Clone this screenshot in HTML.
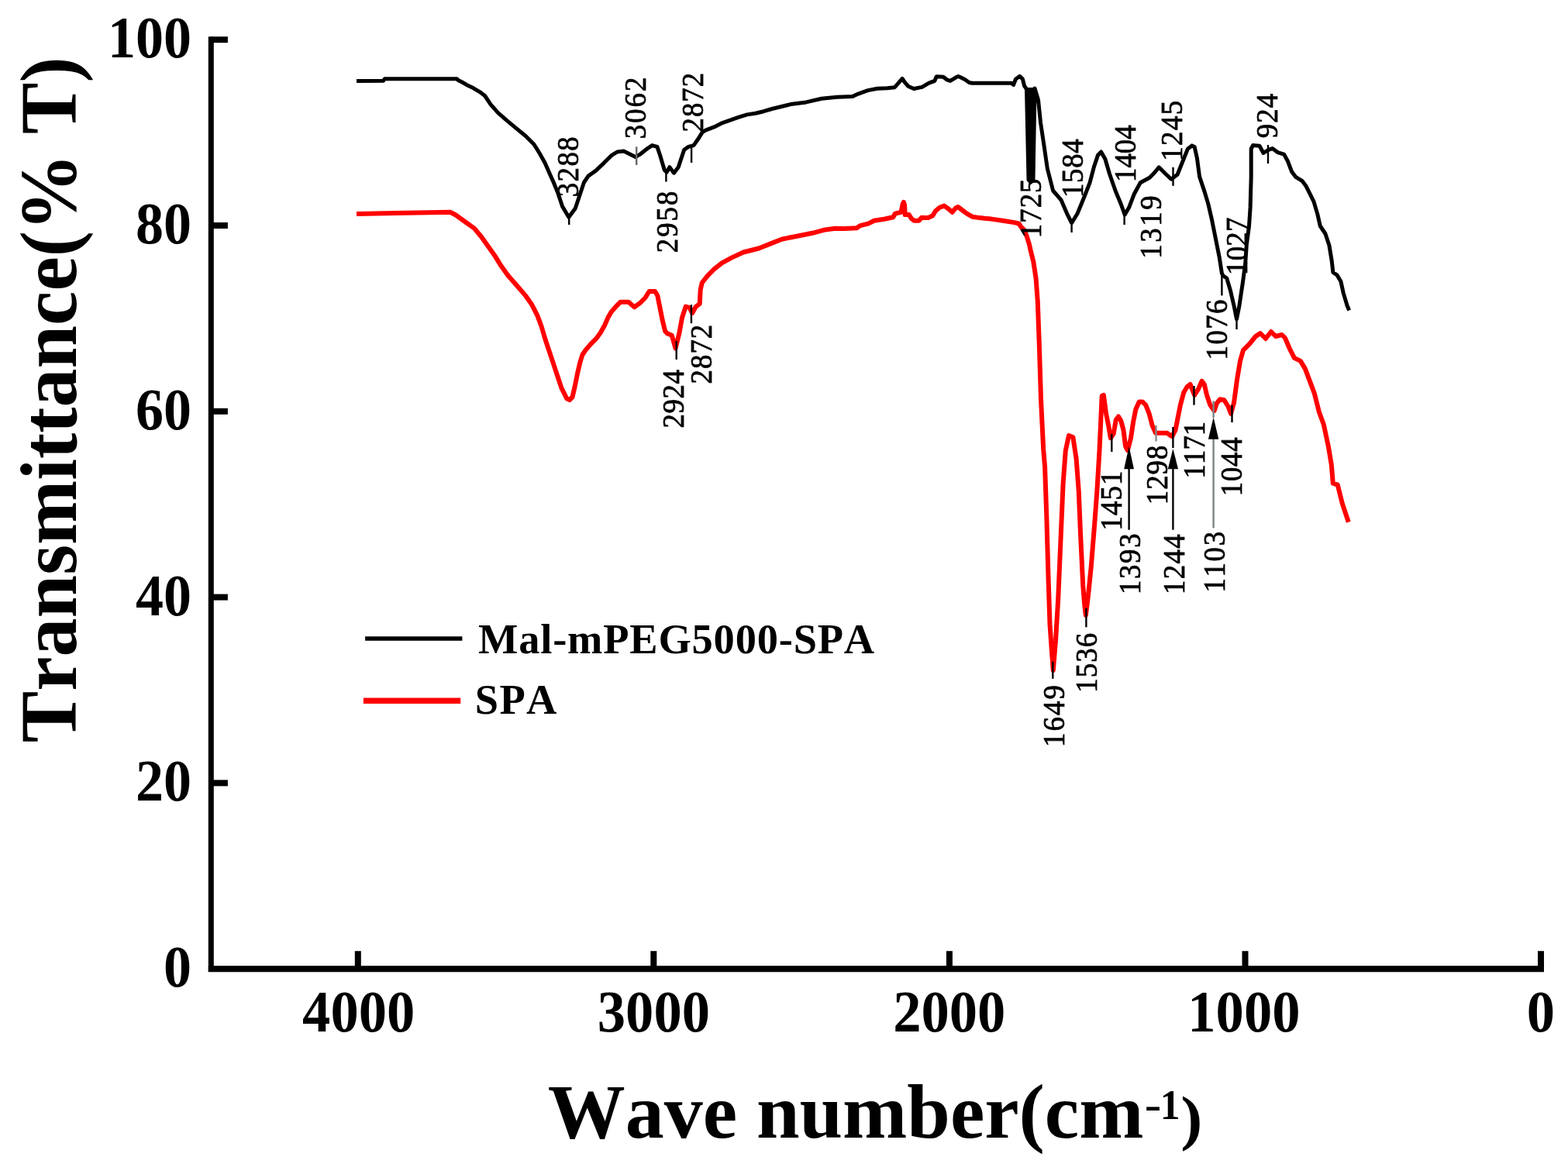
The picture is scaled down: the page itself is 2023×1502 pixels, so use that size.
<!DOCTYPE html>
<html><head><meta charset="utf-8"><title>FTIR spectra</title>
<style>
html,body{margin:0;padding:0;background:#fff;}
svg{display:block;}
text{font-family:"Liberation Serif","Times New Roman",serif;fill:#000;font-kerning:none;font-variant-ligatures:none;}
.b{font-weight:bold;}
</style></head><body>
<svg width="2023" height="1502" viewBox="0 0 2023 1502">
<rect width="2023" height="1502" fill="#fff"/>

<g stroke="#000" fill="none" stroke-linecap="butt">
<line x1="272.3" y1="47.3" x2="272.3" y2="1254.1" stroke-width="7"/>
<line x1="268.8" y1="1250.15" x2="1992" y2="1250.15" stroke-width="8"/>
<line x1="272" y1="1010.4" x2="293.9" y2="1010.4" stroke-width="8"/>
<line x1="272" y1="770.6" x2="293.9" y2="770.6" stroke-width="8"/>
<line x1="272" y1="530.8" x2="293.9" y2="530.8" stroke-width="8"/>
<line x1="272" y1="291.0" x2="293.9" y2="291.0" stroke-width="8"/>
<line x1="272" y1="51.2" x2="293.9" y2="51.2" stroke-width="8"/>
<line x1="1988.0" y1="1250" x2="1988.0" y2="1227.2" stroke-width="8"/>
<line x1="1606.5" y1="1250" x2="1606.5" y2="1227.2" stroke-width="8"/>
<line x1="1224.9" y1="1250" x2="1224.9" y2="1227.2" stroke-width="8"/>
<line x1="843.3" y1="1250" x2="843.3" y2="1227.2" stroke-width="8"/>
<line x1="461.8" y1="1250" x2="461.8" y2="1227.2" stroke-width="8"/>
</g>
<text class="b" transform="translate(211.1,1273.2) scale(1,1.05)" font-size="72">0</text>
<text class="b" transform="translate(175.1,1033.4) scale(1,1.05)" font-size="72">20</text>
<text class="b" transform="translate(175.1,793.6) scale(1,1.05)" font-size="72">40</text>
<text class="b" transform="translate(175.1,553.8) scale(1,1.05)" font-size="72">60</text>
<text class="b" transform="translate(175.1,314.0) scale(1,1.05)" font-size="72">80</text>
<text class="b" transform="translate(139.1,74.2) scale(1,1.05)" font-size="72">100</text>
<text class="b" transform="translate(1969.8,1330.8) scale(1,1.035)" font-size="72.6">0</text>
<text class="b" transform="translate(1532.3,1330.8) scale(1,1.035)" font-size="72.6">1000</text>
<text class="b" transform="translate(1152.2,1330.8) scale(1,1.035)" font-size="72.6">2000</text>
<text class="b" transform="translate(770.8,1330.8) scale(1,1.035)" font-size="72.6">3000</text>
<text class="b" transform="translate(390.1,1330.8) scale(1,1.035)" font-size="72.6">4000</text>
<polyline points="460.0,104.5 494.5,104.3 496.2,101.8 589.5,101.8 591.1,103.5 596.2,106.0 602.0,109.4 610.5,113.6 618.9,118.6 625.5,123.5 633.1,134.8 642.9,145.9 654.1,155.7 666.7,166.2 677.9,175.3 689.1,186.5 696.1,197.7 703.1,210.3 708.7,222.9 714.3,235.5 719.9,249.4 725.5,266.2 733.8,280.2 742.2,269.0 747.8,252.2 753.4,235.5 759.0,227.1 768.8,220.1 779.4,210.1 788.8,200.7 796.3,196.0 804.7,195.1 812.3,198.8 819.8,202.6 826.3,198.8 835.7,191.3 841.4,187.6 847.9,189.4 851.7,200.7 854.5,210.1 857.3,219.5 860.1,222.3 863.9,215.7 869.5,223.2 875.2,215.7 878.9,204.5 882.7,193.2 888.3,189.4 894.9,187.6 901.5,178.2 906.2,170.7 910.8,167.8 921.3,163.9 932.0,158.6 942.6,154.9 953.3,151.1 963.9,147.9 974.6,146.3 985.2,143.7 995.9,140.5 1020.0,134.6 1040.0,131.9 1060.0,127.2 1080.0,125.2 1099.9,124.5 1107.3,121.1 1119.7,116.6 1132.0,114.2 1144.4,113.7 1154.3,112.7 1159.2,107.2 1164.1,101.3 1167.1,105.8 1171.6,111.2 1179.0,114.5 1189.6,112.4 1198.5,107.2 1205.9,104.3 1208.2,98.8 1217.1,99.3 1221.5,102.8 1226.0,104.3 1233.4,99.8 1236.3,98.5 1239.3,99.8 1245.2,102.8 1250.4,106.5 1254.1,107.2 1305.0,107.2 1307.5,109.5 1310.5,102.0 1315.7,98.3 1319.4,102.0 1321.6,110.9 1324.5,115.0 1327.0,232.0 1330.0,235.0 1333.0,232.0 1335.0,114.0 1339.5,129.0 1342.5,158.0 1347.0,188.0 1351.3,217.5 1358.6,246.0 1369.0,258.0 1376.7,275.8 1382.6,287.7 1390.0,275.8 1399.3,253.1 1406.0,235.8 1411.3,215.8 1416.6,199.9 1420.6,195.9 1425.9,205.2 1431.3,223.8 1439.2,246.5 1445.9,262.5 1451.2,277.1 1456.6,267.8 1463.2,250.5 1471.2,235.8 1483.2,229.2 1489.8,222.5 1495.2,215.8 1503.2,223.8 1511.1,231.2 1519.1,225.2 1527.1,205.2 1532.5,191.9 1537.8,187.9 1541.2,189.6 1544.4,204.0 1547.6,228.0 1554.0,247.1 1558.8,263.1 1563.6,283.9 1568.4,307.9 1573.2,331.9 1576.4,352.6 1578.0,355.8 1582.7,359.0 1587.5,375.0 1592.3,395.8 1595.5,411.8 1598.7,395.8 1603.5,363.8 1606.7,339.8 1608.3,315.9 1611.5,291.9 1613.1,267.9 1614.2,228.0 1614.2,192.0 1616.6,187.5 1625.0,188.3 1630.0,197.5 1636.6,193.3 1641.6,191.6 1648.3,196.6 1656.6,199.1 1661.6,208.3 1666.6,221.6 1671.6,228.3 1679.9,233.3 1684.9,239.9 1689.9,249.9 1694.9,259.9 1699.9,276.6 1703.2,291.5 1709.9,301.5 1714.9,316.5 1718.2,336.5 1719.9,351.5 1724.9,354.8 1729.9,363.1 1733.2,378.1 1738.2,394.8 1740.7,400.6" fill="none" stroke="#000" stroke-width="5" stroke-linejoin="round" stroke-linecap="butt"/>
<polygon points="1325.0,113.0 1334.5,113.0 1334.0,150.0 1332.5,233.0 1330.5,235.0 1328.5,233.0 1326.5,150.0" fill="#000"/>
<polyline points="460.0,276.0 524.0,274.7 580.8,273.8 587.7,277.3 599.8,286.0 611.9,294.6 620.6,305.0 629.2,317.1 637.9,329.2 646.5,343.1 655.2,355.2 667.3,369.0 677.7,381.1 686.3,393.3 693.3,407.1 698.5,421.0 703.6,438.3 708.8,453.8 714.0,469.4 719.2,485.0 724.4,500.6 731.3,514.4 734.8,516.1 738.5,512.4 741.7,498.5 744.9,482.5 748.1,468.7 751.3,458.0 755.6,451.6 762.0,444.2 769.4,436.7 774.8,429.3 780.1,419.7 784.3,410.1 788.6,402.6 796.1,394.1 800.3,389.8 811.0,389.8 818.4,396.2 825.9,390.9 832.3,384.5 837.6,376.0 845.1,376.0 848.3,381.3 851.5,397.3 854.7,413.3 858.0,427.0 860.8,430.3 866.8,432.7 871.5,449.5 876.3,430.3 880.0,410.0 884.7,395.6 889.5,396.8 893.1,404.0 897.9,395.6 902.7,392.0 903.7,373.9 905.7,365.0 912.6,356.1 921.5,347.2 931.4,339.3 944.3,332.4 959.1,325.5 978.9,320.5 993.7,314.6 1008.5,308.7 1028.3,304.7 1048.1,300.8 1062.9,296.8 1077.7,294.8 1089.3,295.0 1105.3,294.3 1109.8,291.1 1120.1,288.6 1127.8,284.7 1140.7,282.8 1152.3,280.2 1154.8,275.7 1162.5,273.8 1164.5,264.0 1165.8,260.8 1167.0,264.0 1167.7,277.0 1172.8,277.0 1176.0,282.1 1179.3,284.7 1185.7,284.7 1188.9,280.8 1193.0,281.1 1197.4,281.1 1203.3,278.2 1207.0,272.2 1212.2,267.8 1218.2,265.6 1223.4,269.3 1228.5,273.7 1233.0,268.5 1236.0,267.0 1241.9,271.5 1247.8,275.9 1254.5,279.7 1264.1,281.1 1279.0,282.6 1293.8,284.8 1308.6,287.1 1314.5,288.5 1317.5,293.0 1322.0,297.4 1324.9,305.6 1327.9,315.2 1329.2,321.2 1333.4,338.2 1336.6,359.5 1338.8,389.4 1340.9,446.9 1343.0,515.1 1346.2,580.0 1348.1,602.6 1350.3,666.6 1352.4,741.2 1354.5,805.2 1356.7,837.2 1358.8,864.9 1362.0,826.5 1365.2,773.2 1368.4,698.6 1371.6,624.0 1374.8,581.3 1379.0,562.1 1384.4,564.3 1388.6,592.0 1391.8,634.6 1394.0,688.0 1397.2,755.0 1399.2,780.0 1400.8,794.0 1402.6,780.0 1404.6,762.6 1407.8,730.6 1412.1,677.3 1415.3,634.6 1418.5,581.3 1421.7,510.9 1423.9,509.8 1427.0,533.3 1430.2,549.3 1432.9,565.2 1436.6,559.9 1439.8,541.8 1443.0,537.5 1446.2,542.9 1449.4,554.6 1452.1,575.9 1454.8,581.2 1459.0,565.2 1462.2,543.9 1465.4,527.9 1469.7,518.4 1473.9,518.4 1478.2,522.6 1482.5,533.3 1486.7,549.3 1491.0,558.8 1505.9,558.8 1510.2,562.0 1512.3,563.1 1516.6,554.6 1519.7,538.6 1522.9,522.6 1527.2,506.6 1531.5,499.2 1535.7,496.0 1538.9,504.5 1541.1,509.8 1546.4,501.3 1550.6,491.7 1553.8,496.0 1557.0,509.8 1561.3,522.6 1566.6,530.1 1569.8,520.5 1574.1,515.2 1579.4,516.2 1584.7,524.8 1588.0,533.8 1592.0,519.9 1596.0,489.9 1600.0,465.9 1604.0,451.9 1612.0,443.9 1620.0,434.0 1626.0,430.0 1632.9,437.0 1639.9,428.0 1645.9,434.0 1653.9,432.0 1657.9,436.0 1663.9,450.0 1669.9,461.9 1677.9,465.9 1683.9,475.9 1689.9,491.9 1695.9,507.9 1701.9,531.8 1707.8,547.8 1713.8,575.8 1717.8,599.8 1719.8,623.7 1725.8,625.7 1731.8,649.7 1739.8,673.7" fill="none" stroke="#f00" stroke-width="6" stroke-linejoin="round" stroke-linecap="butt"/>
<line x1="734.2" y1="280" x2="734.2" y2="290" stroke="#000" stroke-width="2.4"/>
<line x1="821.2" y1="189.4" x2="821.2" y2="212.9" stroke="#666" stroke-width="2.4"/>
<line x1="892.1" y1="190" x2="892.1" y2="210.1" stroke="#000" stroke-width="2.4"/>
<line x1="859.4" y1="222" x2="859.4" y2="234.5" stroke="#000" stroke-width="2.4"/>
<line x1="1382.6" y1="287" x2="1382.6" y2="300" stroke="#000" stroke-width="2.4"/>
<line x1="1450.6" y1="277" x2="1450.6" y2="290" stroke="#000" stroke-width="2.4"/>
<line x1="1513.5" y1="215.8" x2="1513.5" y2="239.8" stroke="#000" stroke-width="2.4"/>
<line x1="1636" y1="187" x2="1636" y2="211" stroke="#000" stroke-width="2.4"/>
<line x1="1576.4" y1="356" x2="1576.4" y2="381.4" stroke="#000" stroke-width="2.4"/>
<line x1="1595.5" y1="411" x2="1595.5" y2="425" stroke="#000" stroke-width="2.4"/>
<line x1="872.7" y1="440" x2="872.7" y2="463.9" stroke="#000" stroke-width="2.4"/>
<line x1="891.9" y1="393.2" x2="891.9" y2="417.2" stroke="#000" stroke-width="2.4"/>
<line x1="1358.3" y1="853.6" x2="1358.3" y2="875.8" stroke="#000" stroke-width="2.4"/>
<line x1="1401.4" y1="784.7" x2="1401.4" y2="809.3" stroke="#000" stroke-width="2.4"/>
<line x1="1434.3" y1="560" x2="1434.3" y2="583" stroke="#000" stroke-width="2.4"/>
<line x1="1540.5" y1="498" x2="1540.5" y2="522.6" stroke="#000" stroke-width="2.4"/>
<line x1="1491.5" y1="549" x2="1491.5" y2="569.5" stroke="#888" stroke-width="2.4"/>
<line x1="1589.5" y1="522.6" x2="1589.5" y2="545" stroke="#000" stroke-width="2.4"/>
<line x1="1513.4" y1="551" x2="1513.4" y2="578" stroke="#000" stroke-width="2.4"/>
<line x1="1565.6" y1="517.3" x2="1565.6" y2="539" stroke="#7a8585" stroke-width="2.4"/>
<line x1="1456.6" y1="604.2" x2="1456.6" y2="683.7" stroke="#000" stroke-width="2.4"/>
<polygon points="1456.6,575.9 1450.1999999999998,605.2 1463.0,605.2" fill="#000"/>
<line x1="1513.4" y1="604.2" x2="1513.4" y2="683.7" stroke="#000" stroke-width="2.4"/>
<polygon points="1513.4,579 1506.8000000000002,605.2 1520.0,605.2" fill="#000"/>
<line x1="1565.6" y1="565.8" x2="1565.6" y2="681.3" stroke="#7a8585" stroke-width="2.4"/>
<polygon points="1565.6,538.6 1558.8999999999999,566.8 1572.3,566.8" fill="#000"/>
<text transform="translate(746.1,254.3) rotate(-90) scale(0.92,1)" font-size="40" letter-spacing="1.58" stroke="#000" stroke-width="0.8">3288</text>
<text transform="translate(833.1,179.2) rotate(-90) scale(0.92,1)" font-size="40" letter-spacing="2.17" stroke="#000" stroke-width="0.8">3062</text>
<text transform="translate(906.8,170.6) rotate(-90) scale(0.92,1)" font-size="40" letter-spacing="1.18" stroke="#000" stroke-width="0.8">2872</text>
<text transform="translate(873.8,326.3) rotate(-90) scale(0.92,1)" font-size="40" letter-spacing="2.22" stroke="#000" stroke-width="0.8">2958</text>
<text transform="translate(1342.5,307.2) rotate(-90) scale(0.92,1)" font-size="40" letter-spacing="1.11" stroke="#000" stroke-width="0.8">1725</text>
<text transform="translate(1396.5,255.0) rotate(-90) scale(0.92,1)" font-size="40" letter-spacing="0.73" stroke="#000" stroke-width="0.8">1584</text>
<text transform="translate(1465.4,235.0) rotate(-90) scale(0.92,1)" font-size="40" letter-spacing="0.04" stroke="#000" stroke-width="0.8">1404</text>
<text transform="translate(1525.2,207.7) rotate(-90) scale(0.92,1)" font-size="40" letter-spacing="1.55" stroke="#000" stroke-width="0.8">1245</text>
<text transform="translate(1497.8,333.7) rotate(-90) scale(0.92,1)" font-size="40" letter-spacing="2.77" stroke="#000" stroke-width="0.8">1319</text>
<text transform="translate(1647.9,178.2) rotate(-90) scale(0.92,1)" font-size="40" letter-spacing="1.12" stroke="#000" stroke-width="0.8">924</text>
<text transform="translate(1608.5,355.0) rotate(-90) scale(0.92,1)" font-size="40" letter-spacing="0.29" stroke="#000" stroke-width="0.8">1027</text>
<text transform="translate(1582.5,464.4) rotate(-90) scale(0.92,1)" font-size="40" letter-spacing="1.57" stroke="#000" stroke-width="0.8">1076</text>
<text transform="translate(881.9,552.4) rotate(-90) scale(0.92,1)" font-size="40" letter-spacing="0.61" stroke="#000" stroke-width="0.8">2924</text>
<text transform="translate(917.9,495.5) rotate(-90) scale(0.92,1)" font-size="40" letter-spacing="1.14" stroke="#000" stroke-width="0.8">2872</text>
<text transform="translate(1372.6,963.9) rotate(-90) scale(0.92,1)" font-size="40" letter-spacing="2.26" stroke="#000" stroke-width="0.8">1649</text>
<text transform="translate(1414.5,893.8) rotate(-90) scale(0.92,1)" font-size="40" letter-spacing="1.24" stroke="#000" stroke-width="0.8">1536</text>
<text transform="translate(1447.1,684.5) rotate(-90) scale(0.92,1)" font-size="40" letter-spacing="1.21" stroke="#000" stroke-width="0.8">1451</text>
<text transform="translate(1471.1,767.0) rotate(-90) scale(0.92,1)" font-size="40" letter-spacing="1.80" stroke="#000" stroke-width="0.8">1393</text>
<text transform="translate(1527.9,767.0) rotate(-90) scale(0.92,1)" font-size="40" letter-spacing="1.49" stroke="#000" stroke-width="0.8">1244</text>
<text transform="translate(1579.6,764.5) rotate(-90) scale(0.92,1)" font-size="40" letter-spacing="1.80" stroke="#000" stroke-width="0.8">1103</text>
<text transform="translate(1505.6,651.2) rotate(-90) scale(0.92,1)" font-size="40" letter-spacing="1.10" stroke="#000" stroke-width="0.8">1298</text>
<text transform="translate(1554.0,617.5) rotate(-90) scale(0.92,1)" font-size="40" letter-spacing="0.05" stroke="#000" stroke-width="0.8">1171</text>
<text transform="translate(1602.3,640.2) rotate(-90) scale(0.92,1)" font-size="40" letter-spacing="0.80" stroke="#000" stroke-width="0.8">1044</text>
<line x1="471.1" y1="824" x2="596.4" y2="824" stroke="#000" stroke-width="5.5"/>
<line x1="468.9" y1="904.2" x2="594.2" y2="904.2" stroke="#f00" stroke-width="7.4"/>
<text class="b" x="616.97" y="842.8" font-size="54.4" letter-spacing="0.842">Mal-mPEG5000-SPA</text>
<text class="b" x="612.80" y="921.2" font-size="54.4" letter-spacing="1.412">SPA</text>
<text class="b" transform="translate(706.79,1467.8) scale(0.9993,1)" font-size="100">Wave number(cm</text>
<text class="b" transform="translate(1476.83,1444.2) scale(1.1977,1)" font-size="54">-</text>
<text class="b" transform="translate(1496.87,1444.2) scale(0.9557,1)" font-size="54">1</text>
<text class="b" transform="translate(1523.28,1468.9) scale(1.0832,1)" font-size="78">)</text>
<text class="b" transform="translate(97.9,958.36) rotate(-90) scale(0.9664,1)" font-size="103.4">Transmittance(% T)</text>
</svg></body></html>
